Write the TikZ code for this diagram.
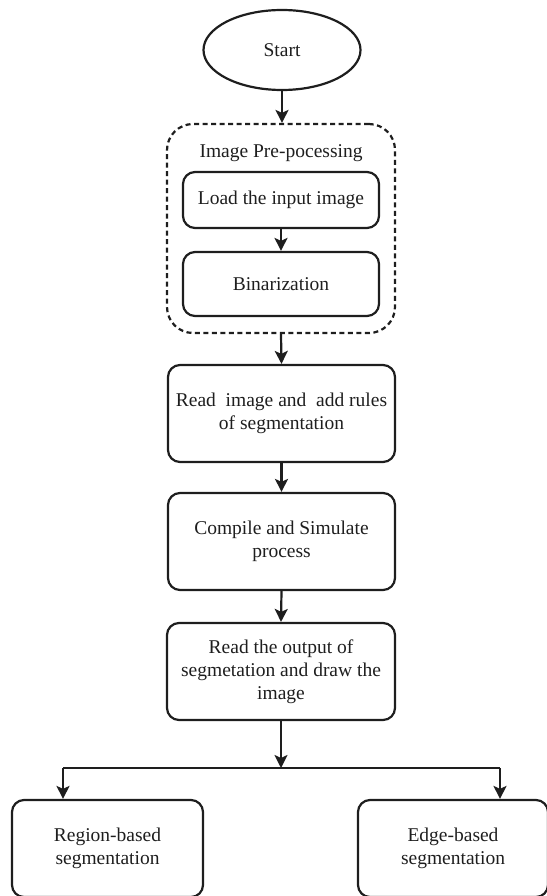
\documentclass[tikz,border=0pt]{standalone}
\usepackage{fontspec}
\setmainfont{Liberation Serif}
\usetikzlibrary{shapes.geometric,arrows.meta}
\definecolor{ink}{HTML}{1E1E1E}
\tikzset{
  base/.style={draw=ink, line width=2.2pt, text=ink, align=center, inner sep=0pt,
    font=\fontsize{19.5}{23}\selectfont},
  procbox/.style={base, rectangle, rounded corners=12pt},
  startshape/.style={base, ellipse},
  groupbox/.style={draw=ink, line width=2.2pt, rounded corners=26pt, dash pattern=on 5pt off 3.5pt},
  arr/.style={draw=ink, line width=2.2pt, -{Stealth[length=13pt,width=13pt,inset=3pt]}},
  conn/.style={draw=ink, line width=2.2pt},
}
\begin{document}
\begin{tikzpicture}[x=1pt,y=-1pt]
\useasboundingbox (0,0) rectangle (546,896);
\node[startshape, minimum width=157pt, minimum height=80pt] (start) at (282,50) {Start};
\node[groupbox, minimum width=228pt, minimum height=209pt] (prep) at (281,228.5) {};
\node[text=ink, font=\fontsize{19.5}{23}\selectfont, inner sep=0pt] (preptitle) at (281,153) {Image Pre-pocessing};
\node[procbox, minimum width=196pt, minimum height=56pt] (load) at (281,200) {Load the input image};
\node[procbox, minimum width=196pt, minimum height=64pt] (bin) at (281,284) {Binarization};
\node[procbox, minimum width=227pt, minimum height=97pt] (read) at (281.5,413.5) {Read\ \ image and\ \ add rules\\of segmentation};
\node[procbox, minimum width=227pt, minimum height=97pt] (comp) at (281.5,541.5) {Compile and Simulate\\process};
\node[procbox, minimum width=228pt, minimum height=97pt] (out) at (281,671.5) {Read the output of\\segmetation and draw the\\image};
\node[procbox, minimum width=191pt, minimum height=97pt] (region) at (107.5,848.5) {Region-based\\segmentation};
\node[procbox, minimum width=190pt, minimum height=97pt] (edge) at (453,848.5) {Edge-based\\segmentation};
\coordinate (jc) at (281,768);
\coordinate (jl) at (63,768);
\coordinate (jr) at (500,768);
\draw[arr] (start.south) -- (start.south |- prep.north);
\draw[arr] (load.south) -- (bin.north);
\draw[arr] (prep.south) -- (read.north);
\draw[arr] (read.south) -- (comp.north);
\draw[arr] (comp.south) -- (out.north);
\draw[arr] (out.south) -- (jc);
\draw[conn] (jl) -- (jr);
\draw[arr] (jl) -- (jl |- region.north);
\draw[arr] (jr) -- (jr |- edge.north);
\end{tikzpicture}
\end{document}
